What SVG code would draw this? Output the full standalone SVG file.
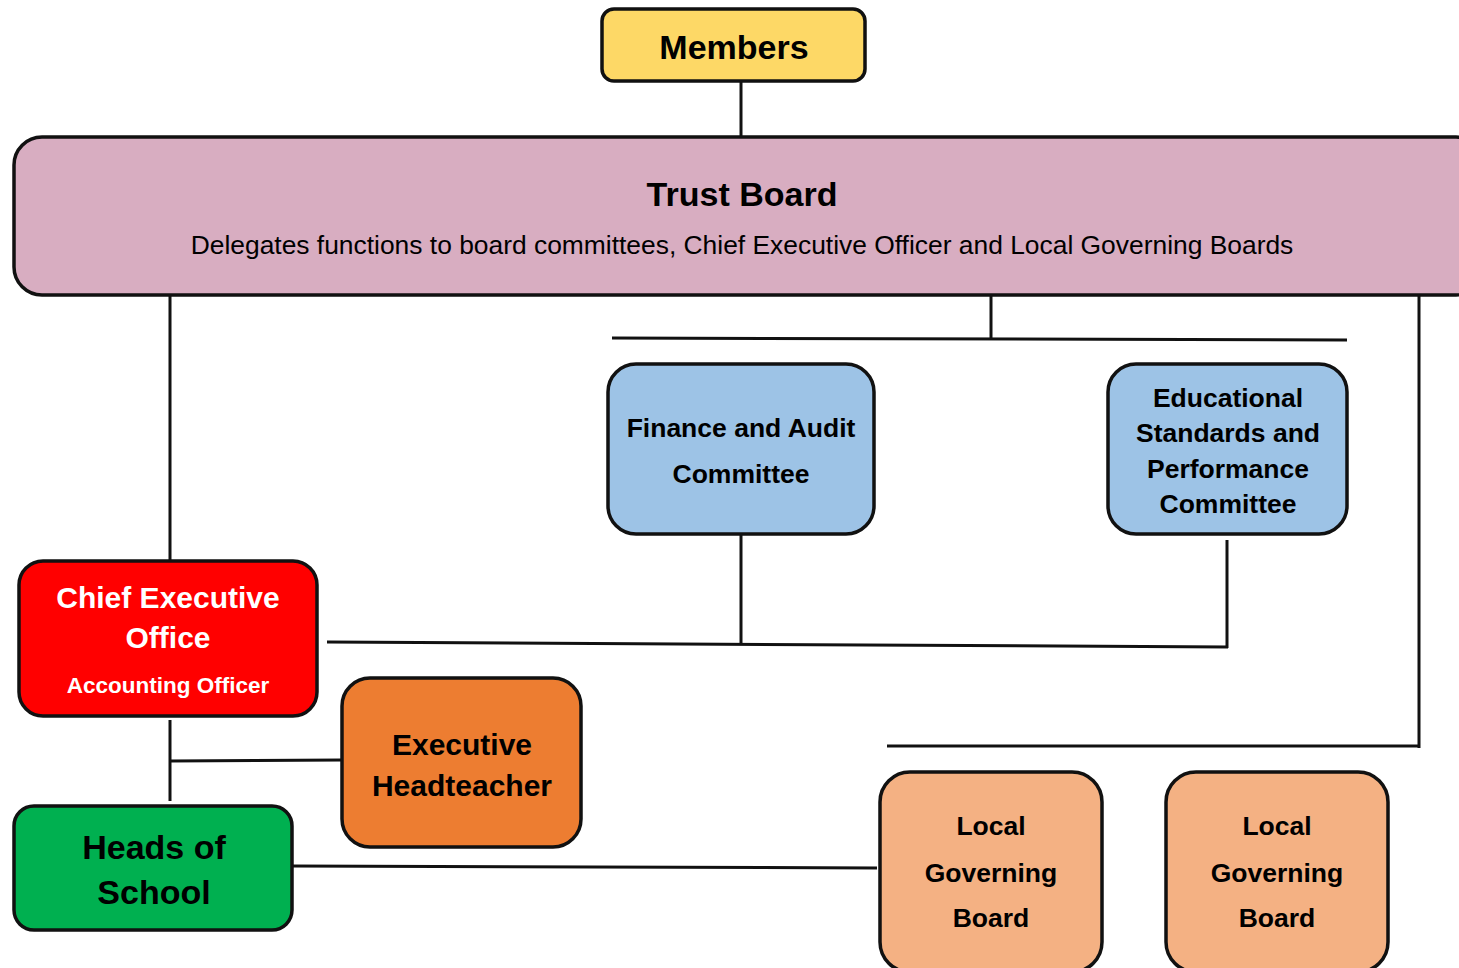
<svg xmlns="http://www.w3.org/2000/svg" width="1459" height="968" viewBox="0 0 1459 968">
<style>
.box{stroke:#111;stroke-width:3.5}
.ln{stroke:#111;stroke-width:3;fill:none}
text{font-family:"Liberation Sans",Arial,sans-serif;font-weight:bold;text-anchor:middle;fill:#000}
.w{fill:#fff}
.n{font-weight:normal}
</style>
<rect width="1459" height="968" fill="#fff"/>
<g id="connectors">
<line class="ln" x1="741" y1="81" x2="741" y2="137"/>
<line class="ln" x1="170" y1="295" x2="170" y2="561"/>
<line class="ln" x1="991" y1="295" x2="991" y2="339"/>
<line class="ln" x1="612" y1="338" x2="1347" y2="340"/>
<line class="ln" x1="1419" y1="295" x2="1419" y2="748"/>
<line class="ln" x1="887" y1="746" x2="1420" y2="746"/>
<line class="ln" x1="741" y1="534" x2="741" y2="644"/>
<line class="ln" x1="1227" y1="540" x2="1227" y2="648"/>
<line class="ln" x1="327" y1="642" x2="1228" y2="647"/>
<line class="ln" x1="170" y1="720" x2="170" y2="801"/>
<line class="ln" x1="170" y1="761" x2="342" y2="760"/>
<line class="ln" x1="292" y1="866" x2="877" y2="868"/>
</g>
<g id="members">
<rect class="box" x="602" y="9" width="263" height="72" rx="12" fill="#FDD866"/>
<text x="734" y="59" font-size="34">Members</text>
</g>
<g id="trust-board">
<rect class="box" x="14" y="137" width="1470" height="158" rx="28" fill="#D8ADC1"/>
<text x="742" y="206" font-size="34">Trust Board</text>
<text class="n" x="742" y="254" font-size="26.4">Delegates functions to board committees, Chief Executive Officer and Local Governing Boards</text>
</g>
<g id="finance">
<rect class="box" x="608" y="364" width="266" height="170" rx="28" fill="#9DC3E6"/>
<text x="741" y="437" font-size="26.5">Finance and Audit</text>
<text x="741" y="483" font-size="26.5">Committee</text>
</g>
<g id="educational">
<rect class="box" x="1108" y="364" width="239" height="170" rx="28" fill="#9DC3E6"/>
<text x="1228" y="407" font-size="26.5">Educational</text>
<text x="1228" y="442" font-size="26.5">Standards and</text>
<text x="1228" y="478" font-size="26.5">Performance</text>
<text x="1228" y="513" font-size="26.5">Committee</text>
</g>
<g id="ceo">
<rect class="box" x="19" y="561" width="298" height="155" rx="24" fill="#FF0000"/>
<text class="w" x="168" y="608" font-size="30">Chief Executive</text>
<text class="w" x="168" y="648" font-size="30">Office</text>
<text class="w" x="168" y="693" font-size="22.5">Accounting Officer</text>
</g>
<g id="exec-head">
<rect class="box" x="342" y="678" width="239" height="169" rx="28" fill="#ED7D31"/>
<text x="462" y="755" font-size="30">Executive</text>
<text x="462" y="796" font-size="30">Headteacher</text>
</g>
<g id="heads-of-school">
<rect class="box" x="14" y="806" width="278" height="124" rx="20" fill="#00B050"/>
<text x="154" y="859" font-size="34">Heads of</text>
<text x="154" y="904" font-size="34">School</text>
</g>
<g id="lgb1">
<rect class="box" x="880" y="772" width="222" height="200" rx="30" fill="#F4B183"/>
<text x="991" y="835" font-size="26.5">Local</text>
<text x="991" y="882" font-size="26.5">Governing</text>
<text x="991" y="927" font-size="26.5">Board</text>
</g>
<g id="lgb2">
<rect class="box" x="1166" y="772" width="222" height="200" rx="30" fill="#F4B183"/>
<text x="1277" y="835" font-size="26.5">Local</text>
<text x="1277" y="882" font-size="26.5">Governing</text>
<text x="1277" y="927" font-size="26.5">Board</text>
</g>
</svg>
